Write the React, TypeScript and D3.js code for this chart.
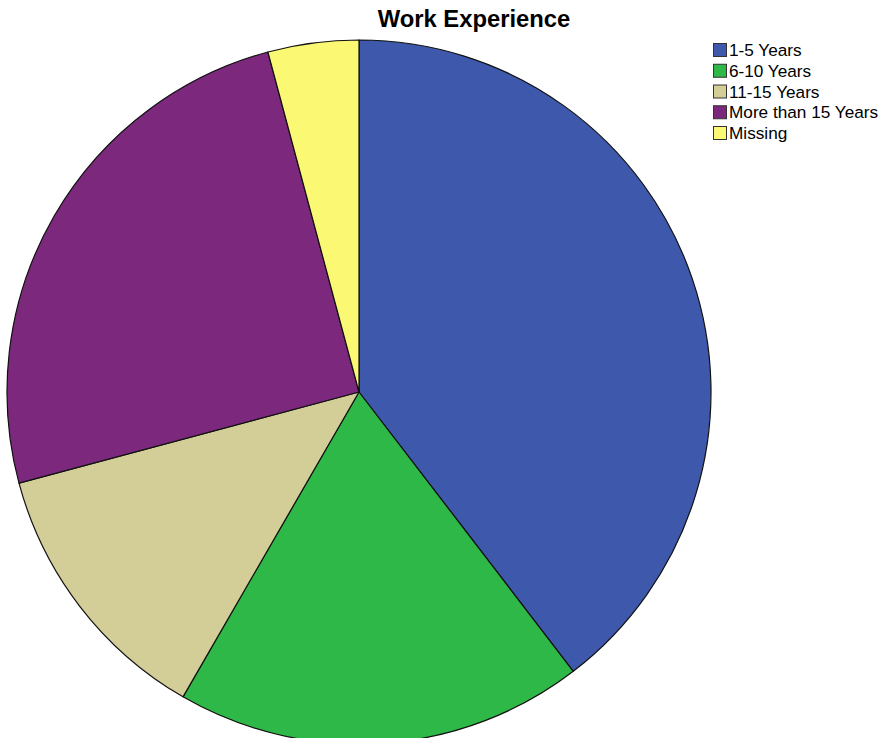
import React from "react";
import * as d3 from "d3";

const categories = ["1-5 Years", "6-10 Years", "11-15 Years", "More than 15 Years", "Missing"];
const counts = [57, 27, 18, 36, 6];
const colors = ["#3E58AC", "#2EB848", "#D3CE97", "#7C287D", "#FBF873"];
const title = "Work Experience";

const W = 883;
const H = 738;

export default function App() {
  const cx = 359;
  const cy = 392;
  const r = 352;
  const pie = d3.pie<number>().sort(null).value((d) => d)(counts);
  const arc = d3.arc<d3.PieArcDatum<number>>().innerRadius(0).outerRadius(r);
  const legendY = d3.scalePoint<string>().domain(categories).range([50, 133]);
  return (
    <svg
      width={W}
      height={H}
      style={{ position: "absolute", left: 0, top: 0, background: "#fff" }}
      fontFamily="'Liberation Sans', Arial, sans-serif"
    >
      <rect x={0} y={0} width={W} height={H} fill="#fff" />
      <g transform={`translate(${cx},${cy})`}>
        {pie.map((p, i) => (
          <path key={i} d={arc(p) || ""} fill={colors[i]} stroke="#111" strokeWidth={1.2} strokeLinejoin="round" />
        ))}
      </g>
      <text x={474} y={27} textAnchor="middle" fontWeight="bold" fontSize={23.8} fill="#000">
        {title}
      </text>
      <g>
        {categories.map((c, i) => (
          <g key={c} transform={`translate(713,${legendY(c)})`}>
            <rect x={0.5} y={-6.5} width={13} height={13} fill={colors[i]} stroke="#333" strokeWidth={1} />
            <text x={16} y={0} dy="0.36em" fontSize={17.2} fill="#000">
              {c}
            </text>
          </g>
        ))}
      </g>
    </svg>
  );
}
